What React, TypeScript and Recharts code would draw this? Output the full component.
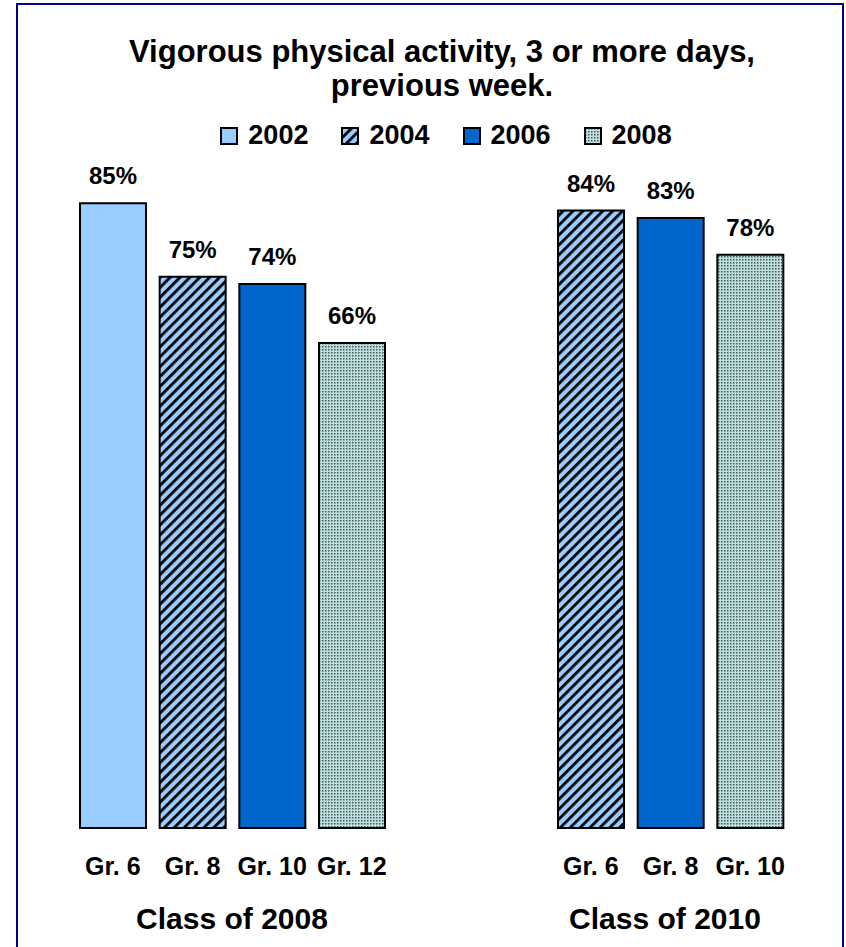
import React from "react";
import { BarChart, Bar, XAxis, YAxis, Cell, LabelList, Legend } from "recharts";

const gradeLabels = ["Gr. 6", "Gr. 8", "Gr. 10", "Gr. 12", "", "", "Gr. 6", "Gr. 8", "Gr. 10"];
const surveyYears = ["2002", "2004", "2006", "2008", "", "", "2004", "2006", "2008"];
const percentValues: (number | null)[] = [85, 75, 74, 66, null, null, 84, 83, 78];
const legendYears = ["2002", "2004", "2006", "2008"];
const groupLabels = ["Class of 2008", "Class of 2010"];
const titleLines = ["Vigorous physical activity, 3 or more days,", "previous week."];

const FONT = "'Liberation Sans', Arial, Helvetica, sans-serif";

const data = gradeLabels.map((g, i) => ({
  grade: g,
  year: surveyYears[i],
  value: percentValues[i],
}));

const fillFor = (year: string, prefix: string) => {
  if (year === "2002") return "#99CCFF";
  if (year === "2004") return `url(#${prefix}-hatch)`;
  if (year === "2006") return "#0066CC";
  return `url(#${prefix}-dots)`;
};

const PatternDefs = ({ prefix }: { prefix: string }) => (
  <defs>
    <pattern id={`${prefix}-hatch`} patternUnits="userSpaceOnUse" width="7" height="7" patternTransform="rotate(45)">
      <rect x="0" y="0" width="7" height="7" fill="#99CCFF" />
      <rect x="0" y="0" width="2.8" height="7" fill="#000000" />
    </pattern>
    <pattern id={`${prefix}-dots`} patternUnits="userSpaceOnUse" width="3" height="3">
      <rect x="0" y="0" width="3" height="3" fill="#C0E0E0" />
      <rect x="1" y="1" width="1.5" height="1.5" fill="#405858" />
    </pattern>
  </defs>
);

const GradeTick = (props: any) => {
  const { x, y, payload } = props;
  return (
    <text x={x} y={y + 47} textAnchor="middle" fontSize={25} fontWeight="bold" fontFamily={FONT} fill="#000">
      {payload.value}
    </text>
  );
};

const renderLegend = () => (
  <div style={{ display: "flex", justifyContent: "center", alignItems: "center", height: 27 }}>
    {legendYears.map((y, i) => (
      <div key={y} style={{ display: "flex", alignItems: "center", marginLeft: i === 0 ? 0 : 33 }}>
        <svg width={18} height={18} style={{ display: "block" }}>
          <PatternDefs prefix={`lg${i}`} />
          <rect x={1} y={1} width={16} height={16} fill={fillFor(y, `lg${i}`)} stroke="#000" strokeWidth={2} />
        </svg>
        <span
          style={{
            marginLeft: 10,
            fontFamily: FONT,
            fontWeight: "bold",
            fontSize: 27,
            lineHeight: "27px",
            color: "#000",
          }}
        >
          {y}
        </span>
      </div>
    ))}
  </div>
);

export default function App() {
  return (
    <div style={{ position: "absolute", left: 0, top: 0, width: 846, height: 947, overflow: "hidden", background: "#fff" }}>
      <div
        style={{
          position: "absolute",
          left: 42,
          top: 35,
          width: 800,
          textAlign: "center",
          fontFamily: FONT,
          fontWeight: "bold",
          fontSize: 31,
          lineHeight: "34px",
          color: "#000",
        }}
      >
        {titleLines.map((l) => (
          <div key={l}>{l}</div>
        ))}
      </div>
      <div style={{ position: "absolute", left: 0, top: 0 }}>
        <BarChart
          width={846}
          height={947}
          data={data}
          margin={{ top: 93, right: 56, bottom: 79, left: 73 }}
        >
          <PatternDefs prefix="bar" />
          <XAxis
            dataKey="grade"
            type="category"
            height={40}
            axisLine={false}
            tickLine={false}
            tickSize={0}
            tickMargin={0}
            interval={0}
            tick={<GradeTick />}
          />
          <YAxis hide domain={[0, 100]} />
          <Legend
            verticalAlign="middle"
            layout="horizontal"
            content={renderLegend}
            wrapperStyle={{ top: 122, left: 46, width: 800, height: 27 }}
          />
          <Bar dataKey="value" barSize={66} isAnimationActive={false}>
            {data.map((d, i) => (
              <Cell key={i} fill={fillFor(d.year, "bar")} stroke="#000" strokeWidth={2} />
            ))}
            <LabelList
              dataKey="value"
              position="top"
              offset={19}
              formatter={(v: any) => (v === null || v === undefined ? "" : `${v}%`)}
              style={{ fontFamily: FONT, fontWeight: "bold", fontSize: 24, fill: "#000" }}
            />
          </Bar>
        </BarChart>
      </div>
      {groupLabels.map((g, i) => (
        <div
          key={g}
          style={{
            position: "absolute",
            left: (i === 0 ? 232 : 665) - 150,
            width: 300,
            top: 904,
            textAlign: "center",
            fontFamily: FONT,
            fontWeight: "bold",
            fontSize: 30,
            lineHeight: "30px",
            color: "#000",
          }}
        >
          {g}
        </div>
      ))}
      <svg width={846} height={947} style={{ position: "absolute", left: 0, top: 0, pointerEvents: "none" }}>
        <rect x={17} y={4} width={826} height={1000} fill="none" stroke="#000080" strokeWidth={2} />
      </svg>
    </div>
  );
}
